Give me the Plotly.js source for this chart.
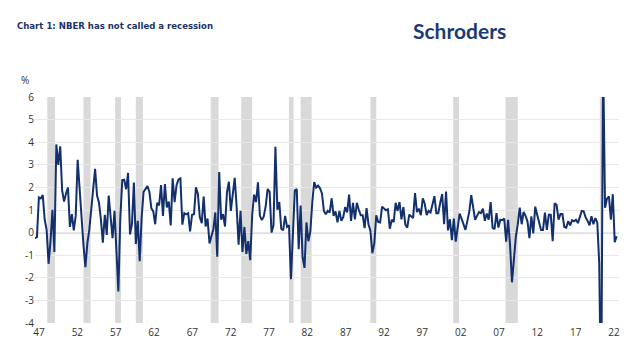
<!DOCTYPE html>
<html>
<head>
<meta charset="utf-8">
<script src="https://cdn.plot.ly/plotly-3.0.1.min.js"></script>
<style>
  html, body { margin: 0; padding: 0; background: #ffffff; }
  #chart { width: 640px; height: 350px; }
</style>
</head>
<body>
<div id="chart"></div>
<script>
// US real GDP, % change quarter on quarter, from 1947 Q2 to 2022 Q2
const firstYear = 1947;
const firstQuarter = 2;
const gdpGrowth = [
  /*1947*/ -0.25, -0.2, 1.56,
  /*1948*/ 1.51, 1.66, 0.57, 0.12,
  /*1949*/ -1.38, -0.38, 1.01, -0.86,
  /*1950*/ 3.9, 3.0, 3.82, 1.87,
  /*1951*/ 1.37, 1.73, 1.99, 0.25,
  /*1952*/ 0.82, 0.1, 0.74, 3.22,
  /*1953*/ 1.85, 0.77, -0.55, -1.53,
  /*1954*/ -0.48, 0.12, 1.13, 1.96,
  /*1955*/ 2.82, 1.64, 1.32, 0.57,
  /*1956*/ -0.45, 0.79, -0.1, 1.64,
  /*1957*/ 0.62, -0.25, 0.96, -1.04,
  /*1958*/ -2.6, 0.64, 2.32, 2.34,
  /*1959*/ 1.92, 2.64, -0.08, 0.37,
  /*1960*/ 2.22, -0.5, 0.52, -1.27,
  /*1961*/ 0.67, 1.8, 1.96, 2.06,
  /*1962*/ 1.8, 1.08, 0.94, 0.37,
  /*1963*/ 1.32, 1.2, 2.1, 0.74,
  /*1964*/ 2.15, 1.11, 1.37, 0.32,
  /*1965*/ 2.4, 1.35, 2.1, 2.35,
  /*1966*/ 2.4, 0.35, 0.86, 0.81,
  /*1967*/ 0.86, 0.05, 0.79, 0.81,
  /*1968*/ 2.0, 1.71, 0.69, 0.42,
  /*1969*/ 1.59, 0.27, 0.62, -0.48,
  /*1970*/ -0.15, 0.15, 0.89, -1.07,
  /*1971*/ 2.68, 0.57, 0.82, 0.27,
  /*1972*/ 1.78, 2.25, 0.96, 1.66,
  /*1973*/ 2.42, 1.13, -0.53, 0.96,
  /*1974*/ -0.86, 0.25, -0.94, -0.38,
  /*1975*/ -1.22, 0.77, 1.68, 1.35,
  /*1976*/ 2.22, 0.74, 0.55, 0.72,
  /*1977*/ 1.18, 1.93, 1.8, 0.0,
  /*1978*/ 0.32, 3.8, 1.01, 1.35,
  /*1979*/ 0.17, 0.1, 0.74, 0.25,
  /*1980*/ 0.32, -2.06, -0.13, 1.87,
  /*1981*/ 1.93, -0.73, 1.2, -1.09,
  /*1982*/ -1.56, 0.45, -0.38, 0.05,
  /*1983*/ 1.32, 2.24, 1.99, 2.08,
  /*1984*/ 1.96, 1.73, 0.96, 0.81,
  /*1985*/ 0.96, 0.89, 1.52, 0.74,
  /*1986*/ 0.94, 0.45, 0.96, 0.52,
  /*1987*/ 0.69, 1.13, 0.89, 1.68,
  /*1988*/ 0.52, 1.32, 0.59, 1.32,
  /*1989*/ 1.01, 0.77, 0.77, 0.2,
  /*1990*/ 1.08, 0.37, 0.07, -0.91,
  /*1991*/ -0.48, 0.77, 0.47, 0.45,
  /*1992*/ 1.15, 1.06, 0.99, 1.03,
  /*1993*/ 0.17, 0.57, 0.47, 1.32,
  /*1994*/ 0.96, 1.35, 0.59, 1.13,
  /*1995*/ 0.35, 0.22, 0.79, 0.72,
  /*1996*/ 0.64, 1.75, 0.91, 1.06,
  /*1997*/ 0.77, 1.52, 1.28, 0.77,
  /*1998*/ 0.96, 0.89, 1.25, 1.61,
  /*1999*/ 0.86, 0.86, 1.32, 1.71,
  /*2000*/ 0.37, 1.82, 0.1, 0.59,
  /*2001*/ -0.33, 0.62, -0.4, 0.27,
  /*2002*/ 0.84, 0.62, 0.4, 0.12,
  /*2003*/ 0.52, 0.94, 1.66, 1.18,
  /*2004*/ 0.57, 0.74, 0.91, 0.86,
  /*2005*/ 1.06, 0.52, 0.84, 0.57,
  /*2006*/ 1.35, 0.22, 0.15, 0.86,
  /*2007*/ 0.22, 0.57, 0.55, 0.62,
  /*2008*/ -0.4, 0.57, -0.53, -2.2,
  /*2009*/ -1.17, -0.18, 0.37, 1.11,
  /*2010*/ 0.37, 0.91, 0.74, 0.5,
  /*2011*/ -0.25, 0.72, -0.03, 1.15,
  /*2012*/ 0.79, 0.42, 0.12, 0.12,
  /*2013*/ 0.89, 0.12, 0.79, 0.79,
  /*2014*/ -0.38, 1.3, 1.23, 0.57,
  /*2015*/ 0.82, 0.82, 0.25, 0.22,
  /*2016*/ 0.5, 0.32, 0.55, 0.5,
  /*2017*/ 0.57, 0.42, 0.72, 0.96,
  /*2018*/ 0.94, 0.67, 0.52, 0.32,
  /*2019*/ 0.72, 0.37, 0.64, 0.45,
  /*2020*/ -1.35, -7.9, 7.8, 1.1,
  /*2021*/ 1.5, 1.6, 0.57, 1.7,
  /*2022*/ -0.43, -0.16
];

// NBER recessions (peak month, trough month)
const recessionStart = ['1948-11','1953-07','1957-08','1960-04','1969-12','1973-11','1980-01','1981-07','1990-07','2001-03','2007-12','2020-02'];
const recessionEnd   = ['1949-10','1954-05','1958-04','1961-02','1970-11','1975-03','1980-07','1982-11','1991-03','2001-11','2009-06','2020-04'];

// axis labels
const tickYears = [1947,1952,1957,1962,1967,1972,1977,1982,1987,1992,1997,2002,2007,2012,2017,2022];
const tickText  = ['47','52','57','62','67','72','77','82','87','92','97','02','07','12','17','22'];
const yTicks = [-4,-3,-2,-1,0,1,2,3,4,5,6];

const titleText = 'Chart 1: NBER has not called a recession';
const brandText = 'Schroders';
const unitText = '%';

// time index: year + fraction of year
const xTime = gdpGrowth.map((v, i) => firstYear + (firstQuarter - 1) / 4 + i / 4);
const monthToTime = s => { const p = s.split('-'); return +p[0] + (+p[1] - 1) / 12; };

const navy = '#13306e';
const shapes = recessionStart.map((s, i) => ({
  type: 'rect', xref: 'x', yref: 'paper', layer: 'between',
  x0: monthToTime(s), x1: monthToTime(recessionEnd[i]) + 1 / 12,
  y0: 0, y1: 1, fillcolor: '#d9d9d9', line: { width: 0 }
}));
shapes.push({ type: 'line', xref: 'paper', yref: 'y', layer: 'between',
  x0: 0, x1: 1, y0: 0, y1: 0, line: { color: '#7f7f7f', width: 1.2 } });

const trace = {
  type: 'scatter', mode: 'lines', x: xTime, y: gdpGrowth,
  line: { color: navy, width: 2 }, hoverinfo: 'skip'
};

const layout = {
  width: 640, height: 350,
  margin: { l: 35, r: 21, t: 97, b: 27 },
  paper_bgcolor: '#ffffff', plot_bgcolor: '#ffffff',
  showlegend: false,
  font: { family: 'Open Sans, sans-serif', size: 10, color: '#333333' },
  title: {
    text: '<b>' + titleText + '</b>',
    xref: 'container', yref: 'container', x: 17 / 640, xanchor: 'left',
    y: 1 - 25.5 / 350, yanchor: 'middle',
    font: { family: 'Liberation Sans Narrow, DejaVu Sans Condensed, sans-serif', size: 9.5, color: '#1b3263' }
  },
  xaxis: {
    range: [1947.25, 2022.55],
    tickmode: 'array',
    tickvals: tickYears.map(y => 1947.77 + (y - 1947) * 0.9884),
    ticktext: tickText,
    showgrid: false, zeroline: false, showline: false, ticks: '',
    ticklabelstandoff: 2,
    tickfont: { family: 'Open Sans, sans-serif', size: 10, color: '#333333' },
    fixedrange: true
  },
  yaxis: {
    range: [-4, 6],
    tickmode: 'array', tickvals: yTicks, ticktext: yTicks.map(String),
    showgrid: true, gridcolor: '#e8e8e8', gridwidth: 1,
    zeroline: false, showline: false, ticks: '',
    tickfont: { family: 'Open Sans, sans-serif', size: 10, color: '#333333' },
    fixedrange: true
  },
  shapes: shapes,
  annotations: [
    { text: unitText, xref: 'paper', yref: 'paper', x: (25 - 35) / 584, y: (323 - 80) / 226,
      xanchor: 'center', yanchor: 'middle', showarrow: false,
      font: { family: 'Open Sans, sans-serif', size: 10, color: '#333333' } },
    { text: '<b>' + brandText + '</b>', xref: 'paper', yref: 'paper', x: (411 - 35) / 584, y: (323 - 30) / 226,
      xanchor: 'left', yanchor: 'middle', showarrow: false,
      font: { family: 'Lato, sans-serif', size: 21, color: '#1e3a72' } }
  ]
};

Plotly.newPlot('chart', [trace], layout, { displayModeBar: false, staticPlot: true });
</script>
</body>
</html>
